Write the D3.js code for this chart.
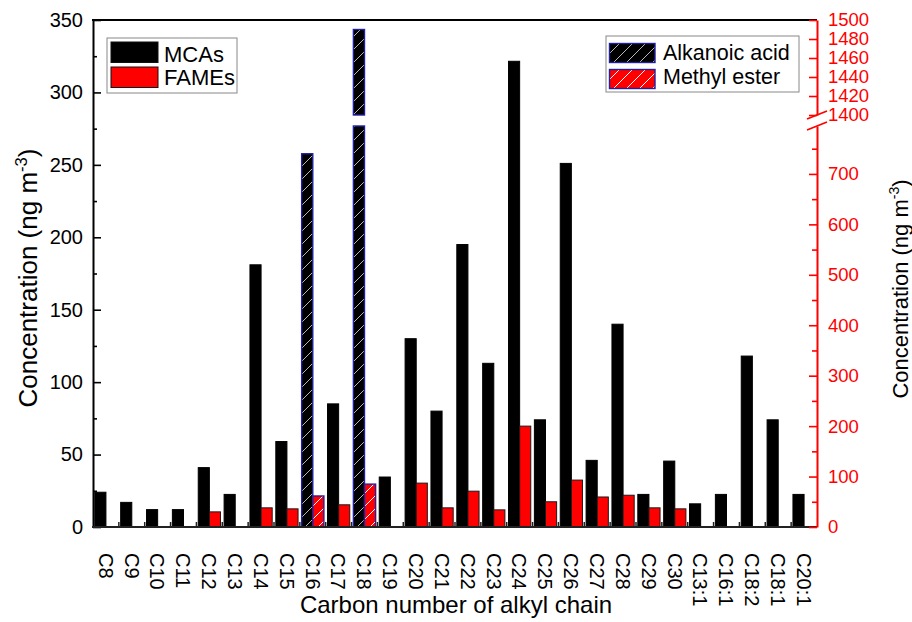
<!DOCTYPE html>
<html><head><meta charset="utf-8">
<script src="https://cdn.jsdelivr.net/npm/d3@7"></script>
<style>
body{margin:0;background:#fff}
svg{display:block}
text{font-family:"Liberation Sans",Arial,Helvetica,sans-serif}
</style>
</head><body>
<svg id="chart" width="912" height="622"></svg>
<script>
// ---------- data ----------
const categories = ["C8","C9","C10","C11","C12","C13","C14","C15","C16","C17","C18","C19","C20","C21","C22","C23","C24","C25","C26","C27","C28","C29","C30","C13:1","C16:1","C18:2","C18:1","C20:1"];
// MCAs (left axis, ng m-3)
const mcas = [24,17,12,12,41,22.5,181,59,null,85,null,34.5,130,80,195,113,321.5,74,251,46,140,22.5,45.5,16,22.5,118,74,22.5];
// FAMEs (right axis, ng m-3)
const fames = [null,null,null,null,30,null,38,36,null,44,null,null,87,38,71,34,200,50,93,59.5,63,38,36,null,null,null,null,null];
// Alkanoic acid (right axis, hatched)
const alkanoicAcid = [null,null,null,null,null,null,null,null,740,null,1490,null,null,null,null,null,null,null,null,null,null,null,null,null,null,null,null,null];
// Methyl ester (right axis, hatched)
const methylEster = [null,null,null,null,null,null,null,null,61.5,null,85,null,null,null,null,null,null,null,null,null,null,null,null,null,null,null,null,null];

const leftTicks = [0,50,100,150,200,250,300,350];
const leftMinorTicks = [25,75,125,175,225,275,325];
const rightLowTicks = [0,100,200,300,400,500,600,700];
const rightLowMinorTicks = [50,150,250,350,450,550,650,750];
const rightHighTicks = [1400,1420,1440,1460,1480,1500];
const legendLeft = ["MCAs","FAMEs"];
const legendRight = ["Alkanoic acid","Methyl ester"];

// ---------- layout ----------
const L = 93, R = 817, T = 20, B = 527;
const breakLow = 126, breakHigh = 115;
const svg = d3.select("#chart");

const x = d3.scaleBand().domain(categories).range([L, R]).padding(0);
const yL = d3.scaleLinear().domain([0, 350]).range([B, T]);
const yRLow = d3.scaleLinear().domain([0, 795]).range([B, breakLow]);
const yRHigh = d3.scaleLinear().domain([1400, 1500]).range([breakHigh, T]);

const bw = x.bandwidth();
const off = bw * 0.07, w = bw * 0.43;

// patterns
const defs = svg.append("defs");
function hatch(id, bg, line) {
  const p = defs.append("pattern").attr("id", id).attr("patternUnits", "userSpaceOnUse")
    .attr("width", 13).attr("height", 13);
  p.append("rect").attr("width", 13).attr("height", 13).attr("fill", bg);
  p.append("path").attr("d", "M-1,14 L14,-1 M-2,2 L2,-2 M11,15 L15,11")
    .attr("stroke", line).attr("stroke-width", 1);
}
hatch("hBlack", "#000", "#b8b8b8");
hatch("hRed", "#ff0000", "#ffffff");

const gBars = svg.append("g");

// MCAs black bars (left axis)
gBars.selectAll(".mca").data(categories.map((c, i) => ({c, v: mcas[i]})).filter(d => d.v != null))
  .join("rect").attr("x", d => x(d.c) + off).attr("width", w)
  .attr("y", d => yL(d.v)).attr("height", d => B - yL(d.v))
  .attr("fill", "#000").attr("stroke", "#000").attr("stroke-width", 1);

// FAMEs red bars (right axis)
gBars.selectAll(".fame").data(categories.map((c, i) => ({c, v: fames[i]})).filter(d => d.v != null))
  .join("rect").attr("x", d => x(d.c) + off + w).attr("width", w)
  .attr("y", d => yRLow(d.v)).attr("height", d => B - yRLow(d.v))
  .attr("fill", "#ff0000").attr("stroke", "#1a1a1a").attr("stroke-width", 1);

// broken-axis bar helper
function brokenBar(g, xPos, v, fill) {
  const segs = [];
  if (v <= yRLow.domain()[1]) segs.push([yRLow(v), B]);
  else { segs.push([breakLow, B]); segs.push([yRHigh(v), breakHigh]); }
  segs.forEach(s => {
    g.append("rect").attr("x", xPos).attr("width", w).attr("y", s[0]).attr("height", s[1] - s[0])
      .attr("fill", fill).attr("stroke", "#2020a0").attr("stroke-width", 1.4);
  });
}
categories.forEach((c, i) => {
  if (alkanoicAcid[i] != null) brokenBar(gBars, x(c) + off, alkanoicAcid[i], "url(#hBlack)");
  if (methylEster[i] != null) brokenBar(gBars, x(c) + off + w, methylEster[i], "url(#hRed)");
});

// ---------- axes ----------
const fam = "Liberation Sans, Arial, sans-serif";
// left
const axL = svg.append("g").attr("transform", `translate(${L},0)`)
  .call(d3.axisLeft(yL).tickValues(leftTicks).tickSizeInner(-8).tickSizeOuter(0).tickPadding(10));
const axLm = svg.append("g").attr("transform", `translate(${L},0)`)
  .call(d3.axisLeft(yL).tickValues(leftMinorTicks).tickSizeInner(-4).tickSizeOuter(0).tickFormat(""));
axLm.select(".domain").remove();
axL.selectAll("text").attr("font-size", 20).attr("fill", "#000").style("font-family", fam);
axL.select(".domain").attr("stroke-width", 2).attr("stroke", "#000");
[axL, axLm].forEach(g => g.selectAll(".tick line").attr("stroke-width", 1.6).attr("stroke", "#000"));

// top frame line
svg.append("line").attr("x1", L - 1).attr("x2", R).attr("y1", T).attr("y2", T)
  .attr("stroke", "#000").attr("stroke-width", 2);

// bottom axis
svg.append("line").attr("x1", L - 1).attr("x2", R).attr("y1", B).attr("y2", B)
  .attr("stroke", "#222").attr("stroke-width", 2);
svg.append("g").selectAll("line").data(categories.slice(1))
  .join("line").attr("x1", d => x(d)).attr("x2", d => x(d)).attr("y1", B).attr("y2", B - 5)
  .attr("stroke", "#222").attr("stroke-width", 1.5);
const axB = svg.append("g").attr("transform", `translate(0,${B})`)
  .call(d3.axisBottom(x).tickSize(0).tickPadding(0));
axB.select(".domain").remove();
axB.selectAll("text")
  .attr("font-size", 20).attr("fill", "#000").style("font-family", fam)
  .attr("text-anchor", "start").attr("x", 0).attr("y", 0).attr("dy", "0.36em")
  .attr("transform", "translate(0,26) rotate(90)");

// right axis (red)
const red = "#ff0000";
const fmt = d3.format("d");
const axRL = svg.append("g").attr("transform", `translate(${R},0)`)
  .call(d3.axisRight(yRLow).tickValues(rightLowTicks).tickFormat(fmt).tickSizeInner(-8).tickSizeOuter(0).tickPadding(11));
const axRLm = svg.append("g").attr("transform", `translate(${R},0)`)
  .call(d3.axisRight(yRLow).tickValues(rightLowMinorTicks).tickSizeInner(-5).tickSizeOuter(0).tickFormat(""));
axRLm.select(".domain").remove();
const axRH = svg.append("g").attr("transform", `translate(${R},0)`)
  .call(d3.axisRight(yRHigh).tickValues(rightHighTicks).tickFormat(fmt).tickSizeInner(-8).tickSizeOuter(0).tickPadding(11));
[axRL, axRLm, axRH].forEach(g => {
  g.selectAll("line").attr("stroke", red).attr("stroke-width", 1.6);
  g.select(".domain").attr("stroke", red).attr("stroke-width", 2);
  g.selectAll("text").attr("fill", red).attr("font-size", 18.5).style("font-family", fam);
});

// break marks
const bk = svg.append("g").attr("stroke", red).attr("stroke-width", 1.6);
bk.append("line").attr("x1", R - 10).attr("y1", breakHigh + 4).attr("x2", R + 10).attr("y2", breakHigh - 4);
bk.append("line").attr("x1", R - 10).attr("y1", breakLow + 4).attr("x2", R + 10).attr("y2", breakLow - 4);

// ---------- titles ----------
function yTitle(xPos, yPos, size) {
  const t = svg.append("text").attr("transform", `translate(${xPos},${yPos}) rotate(-90)`)
    .attr("text-anchor", "middle").attr("font-size", size).attr("fill", "#000");
  t.append("tspan").text("Concentration (ng m");
  t.append("tspan").attr("dy", -0.4 * size).attr("font-size", size * 0.64).text("-3");
  t.append("tspan").attr("dy", 0.4 * size).text(")");
}
yTitle(37, 278, 26);
yTitle(908, 289, 22);

svg.append("text").attr("x", (L + R) / 2 + 1).attr("y", 613).attr("text-anchor", "middle")
  .attr("font-size", 24).attr("fill", "#000").text("Carbon number of alkyl chain");

// ---------- legends ----------
const lg1 = svg.append("g");
lg1.append("rect").attr("x", 107).attr("y", 38).attr("width", 130).attr("height", 55)
  .attr("fill", "#fff").attr("stroke", "#888").attr("stroke-width", 1);
const fills1 = ["#000", "#ff0000"];
legendLeft.forEach((s, i) => {
  lg1.append("rect").attr("x", 111).attr("y", 42 + i * 25).attr("width", 47).attr("height", 20.5)
    .attr("fill", fills1[i]).attr("stroke", "#111").attr("stroke-width", 1);
  lg1.append("text").attr("x", 164).attr("y", 61.5 + i * 23.5).attr("font-size", 22).attr("fill", "#000").text(s);
});
const lg2 = svg.append("g");
lg2.append("rect").attr("x", 606).attr("y", 36).attr("width", 193).attr("height", 56)
  .attr("fill", "#fff").attr("stroke", "#888").attr("stroke-width", 1);
const fills2 = ["url(#hBlack)", "url(#hRed)"];
legendRight.forEach((s, i) => {
  lg2.append("rect").attr("x", 609.5).attr("y", 43.5 + i * 26).attr("width", 45.5).attr("height", 19)
    .attr("fill", fills2[i]).attr("stroke", "#2020a0").attr("stroke-width", 1.4);
  lg2.append("text").attr("x", 663).attr("y", 60 + i * 24).attr("font-size", 21.5).attr("fill", "#000").text(s);
});
</script>
</body></html>
